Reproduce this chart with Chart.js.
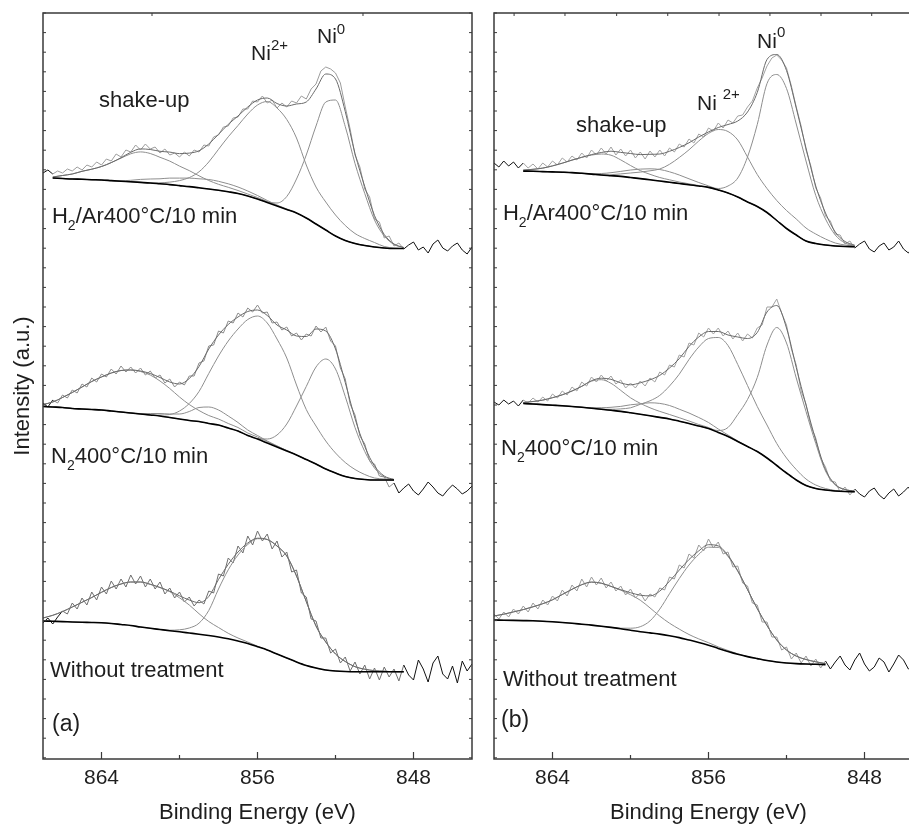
<!DOCTYPE html>
<html><head><meta charset="utf-8">
<script src="https://cdn.jsdelivr.net/npm/chart.js@4.4.1/dist/chart.umd.min.js"></script>
<style>
html,body{margin:0;padding:0;width:909px;height:826px;overflow:hidden;background:#fff;}
#ca{position:absolute;left:0;top:0;}
#cb{position:absolute;left:480px;top:0;}
</style></head><body>
<canvas id="ca" width="480" height="826"></canvas>
<canvas id="cb" width="451" height="826"></canvas>
<script>
// ---------- energy grids (eV) ----------
const energyFit = [867,866.5,866,865.5,865,864.5,864,863.5,863,862.5,862,861.5,861,860.5,860,859.5,859,858.5,858,857.5,857,856.5,856,855.5,855,854.5,854,853.5,853,852.5,852,851.5,851,850.5,850,849.5,849,848.5,848,847.5,847,846.5,846,845.5,845];
const energyRaw = [867,866.75,866.5,866.25,866,865.75,865.5,865.25,865,864.75,864.5,864.25,864,863.75,863.5,863.25,863,862.75,862.5,862.25,862,861.75,861.5,861.25,861,860.75,860.5,860.25,860,859.75,859.5,859.25,859,858.75,858.5,858.25,858,857.75,857.5,857.25,857,856.75,856.5,856.25,856,855.75,855.5,855.25,855,854.75,854.5,854.25,854,853.75,853.5,853.25,853,852.75,852.5,852.25,852,851.75,851.5,851.25,851,850.75,850.5,850.25,850,849.75,849.5,849.25,849,848.75,848.5,848.25,848,847.75,847.5,847.25,847,846.75,846.5,846.25,846,845.75,845.5,845.25,845];

const xTickValues = [848,852,856,860,864];
const xLabelValues = [848,856,864];

// ---------- panel (a), H2/Ar ----------
const bgA_H2 = [null,581,580.5,580,579.7,579.3,579,578.4,577.8,577.2,576.6,576,575.2,574.4,573.4,572.4,571.2,570,568.7,567.2,565.5,563,560,556.5,553,549.5,546,541,535,529,523,518.5,515.5,513.5,512,511,510.5,510.5,null,null,null,null,null,null,null];
const shakeA_H2 = [0,1,3,5,8,10.5,13.5,18,23,28,30.5,29.5,26.5,23.5,19.5,16,12,8.5,6,4.5,3,2,1.5,1,0.5];
const satA_H2 = [0,0,0,0,0,0,0,0,0.5,1.5,3,4,5,6.5,7.5,8.5,9,9.5,9,8,6.5,5,3.5,2,1,0.5];
const ni2A_H2 = [0,0,0,0,0,0,0,0,0,0,0,0,1,2.5,5,9,16,27,41,55,68,82,94,101,98,90,75,53,37,28,21,15,10,7,4.5,1.5,0.5];
const ni0A_H2 = [0,0,0,0,0,0,0,0,0,0,0,0,0,0,0,0,0,0,0,0,0,0,0,0.5,3,13,34,63,98,128,136,114,80,52,27,12,4,1];
const rawA_H2 = [586,589,585,588,586,590,588,592,589,594,592,597,594,
600,598,605,602,609,607,614,609,615,610,612,606,610,604,606,602,
607,603,609,607,614,613,622,624,632,633,641,642,650,650,658,657,
663,656,659,651,656,652,658,656,663,660,670,675,688,692,690,686,
676,652,630,604,592,570,562,540,537,521,523,513,516,510,514,517,
509,512,506,515,519,511,508,513,516,509,505,512];

// ---------- panel (a), N2 ----------
const bgA_N2 = [352.5,352,351.5,350.5,350,349.5,349,348,347,346,345,344,343,341.5,340,338.5,337.5,335.5,334,331,328,323.5,320,316,312,308,304,299.5,295,290,286,282.5,280.5,279.5,279,279,279,null,null,null,null,null,null,null,null];
const shakeA_N2 = [2,5,10,16,22,28,33,38,41.5,43,42.5,40,35,29,22,16,11,8,6,4.5,3.5,2.5,2,1.5,1,0.5];
const satA_N2 = [0,0,0,0,0,0,0,0,0,0,0.5,1.5,2.5,3.5,5,9,14,16.5,15,12,8.5,5.5,3.5,2,1,0.5];
const ni2A_N2 = [0,0,0,0,0,0,0,0,0,0,0,0,1,3,8,17,30,50,69,87,102,116,123,120,108,93,70,50,38,28,20,14,9,5,2,1];
const ni0A_N2 = [0,0,0,0,0,0,0,0,0,0,0,0,0,0,0,0,0,0,0,0,0,0,0.5,4,12,27,49,73,97,110,104,80,51,28,12,3,0.5];
const rawA_N2 = [356,352,359,356,364,361,369,366,375,372,381,377,385,
382,390,385,393,387,392,386,391,384,388,381,384,376,380,372,377,
374,383,383,396,398,413,414,428,426,438,436,446,442,451,447,454,
446,447,436,437,429,432,423,426,419,425,423,433,427,432,418,413,
391,380,355,344,323,315,298,295,283,282,272,276,266,271,275,268,
264,270,277,272,266,263,269,274,270,265,268,273];

// ---------- panel (a), without treatment ----------
const bgA_WT = [138,137.7,137.4,137,136.7,136.5,136.2,135.5,134.5,133.5,132,130.7,129.5,128.3,127.2,126,124.8,123.5,122,120.2,118,115.5,112.3,109,105,101,97,93.5,91,89,88,87.5,87.3,87.3,87.3,87.3,87.3,87.3,null,null,null,null,null,null,null];
const shakeA_WT = [3,6,10,15,20,25,30.5,36,40.5,43.5,45,44,42,39,34,28,20.5,14,9.5,5.5,3,1.5,0.5];
const ni2A_WT = [0,0,0,0,0,0,0,0,0,0,0,0,0,0.5,2,5,11,25,48,69,86,99,108,110.5,108,102,86,64,42,28,17,10,5,2.5,1,0.5];
const rawA_WT = [136,141,135,142,148,145,156,150,161,154,167,159,172,
165,178,170,180,172,184,175,183,172,180,170,177,165,171,161,167,
157,162,153,159,155,168,166,185,183,201,196,213,206,223,214,228,
218,225,210,218,202,207,187,189,166,162,140,138,121,121,106,110,
96,102,88,97,85,94,80,91,79,92,82,90,78,94,84,79,
99,90,77,96,103,85,80,93,76,98,88,95];

// ---------- panel (b), H2/Ar ----------
const bgB_H2 = [null,null,null,587.9,587.7,587.4,587.1,586.8,586.4,585.7,584.9,584,583.3,582.6,581.5,580.4,579.2,578,576.7,575.5,574.2,573,571.6,569,566,562,557,552.5,546.5,538.5,530.5,524,518,515.5,514,513,512.5,512.3,null,null,null,null,null,null,null];
const shakeB_H2 = [0,0,0,1,2,3.5,6,9,12.5,16,19,21,20.5,16.5,12,8,5.5,3.5,2.5,1.5,1,0.5];
const satB_H2 = [0,0,0,0,0,0,0,0,0,0,0.5,1.5,3,5,7.5,9.5,11,11.5,10.5,8.5,6,3.5,1.5,0.5];
const ni2B_H2 = [0,0,0,0,0,0,0,0,0,0,0,0,1,2.5,4.5,6.5,9,12,18,26,35,45,54,60.5,61.5,57,45,32,24,20,18,16,13,9.5,6,3,1.5,0.5];
const ni0B_H2 = [0,0,0,0,0,0,0,0,0,0,0,0,0,0,0,0,0,0,0,0,0,0,0,1.5,7,19,45,82,129,146,140,111,80,48,26,11,3.5,1];
const rawB_H2 = [596,592,598,593,597,591,596,591,595,590,596,592,598,
594,601,597,603,599,606,601,609,604,611,605,612,604,610,603,609,
601,607,600,608,602,609,603,611,607,615,612,620,616,625,622,631,
628,636,631,639,636,643,644,652,658,671,681,693,701,704,699,691,
673,652,633,609,593,571,561,543,538,525,524,515,518,511,515,518,
510,507,513,516,509,512,518,510,506,513,516,511];

// ---------- panel (b), N2 ----------
const bgB_N2 = [null,null,null,355.5,355,354.4,353.8,353.2,352.5,351.7,350.8,349.8,348.7,347.6,346.2,344.7,343.2,341.6,340,337.8,335.5,333,330.5,326.5,322.5,317.5,312.5,307.5,301,293.5,286,279,273.5,270.5,269,268,267.5,267.3,null,null,null,null,null,null,null];
const shakeB_N2 = [0,0,0,1,2.5,4.5,7.5,11,15.5,21,27,29.5,27,21,15,11,8,6,4.5,3.5,2.5,1.5,1,0.5];
const satB_N2 = [0,0,0,0,0,0,0,0,0,0,0.5,1.5,3,5,8,10.5,13,14,13.5,12,10.5,8.5,6,3.5,1.5,0.5];
const ni2B_N2 = [0,0,0,0,0,0,0,0,0,0,0,0,1,2.5,5,10,15,22,33,47,64,79,90,95,91,77,61,45,33,22,15,10.5,6.5,3.5,1.5,0.5];
const ni0B_N2 = [0,0,0,0,0,0,0,0,0,0,0,0,0,0,0,0,0,0,0,0,0,0,0,2,9,27,47,74,113,138,130,102,74,45,19,6,2,0.5];
const rawB_N2 = [357,354,359,355,358,353,359,356,361,357,362,358,365,
361,368,364,372,368,377,373,382,377,384,378,383,375,379,371,376,
371,378,373,381,377,387,384,394,392,404,402,416,414,426,422,431,
425,431,423,428,420,426,418,425,421,431,434,452,452,460,446,434,
410,394,368,355,333,321,301,292,278,277,267,272,264,270,265,262,
268,271,264,260,266,270,263,267,272,264,261,267];

// ---------- panel (b), without treatment ----------
const bgB_WT = [139,138.8,138.6,138.4,138.2,137.8,137.2,136.5,135.7,134.8,133.9,132.8,131.6,130.3,128.8,127.3,126.1,124.9,123.3,121.4,119,116.6,113.8,110.6,107.5,104.7,102.4,100.4,98.5,97,96,95.4,95,94.7,94.4,null,null,null,null,null,null,null,null,null,null];
const shakeB_WT = [4,6,8.5,11,14,17.5,22,28,34,39.5,43,43,41,38.5,35.5,31.5,25,18,12.5,8.5,5.5,3.5,2.5,1.5,1,0.5];
const ni2B_WT = [0,0,0,0,0,0,0,0,0,0,0,0,0,0.5,2,5,12,25,42,59,75,88,98,101,95,83,67,50,35,22,13,7.5,4.5,2.5,1];
const rawB_WT = [145,140,147,142,150,145,153,147,156,150,159,154,163,
158,169,163,174,168,180,172,182,174,181,171,177,168,173,164,170,
161,166,158,165,162,171,169,182,180,194,191,205,201,214,208,220,
211,217,205,207,192,193,176,173,156,154,137,137,122,122,109,112,
100,106,96,103,93,100,91,98,90,97,103,94,89,99,106,95,
88,92,101,97,87,95,104,99,90,93,101,96];

// ---------- drawing ----------
const FONT = "'Liberation Sans', Arial, Helvetica, sans-serif";
Chart.defaults.font.family = FONT;
const TXT = '#1e1e1e';

function spectrum(bg, comps, raw, fitLo, fitHi, rawGray) {
  const sets = [];
  const bgPts = [], envPts = [];
  const compPts = comps.map(() => []);
  energyFit.forEach((e, k) => {
    if (bg[k] == null) return;
    bgPts.push({x: e, y: bg[k]});
    let sum = 0;
    comps.forEach((c, j) => { const v = c[k] || 0; sum += v; compPts[j].push({x: e, y: bg[k] + v}); });
    envPts.push({x: e, y: bg[k] + sum});
  });
  const smooth = {pointRadius: 0, cubicInterpolationMode: 'monotone', fill: false};
  sets.push(Object.assign({data: bgPts, borderColor: '#000', borderWidth: 1.6, order: 1}, smooth));
  sets.push(Object.assign({data: envPts, borderColor: '#6a6a6a', borderWidth: 1, order: 2}, smooth));
  compPts.forEach(p => sets.push(Object.assign({data: p, borderColor: '#8e8e8e', borderWidth: 1, order: 3}, smooth)));
  const inFit = v => v >= fitLo - 1e-6 && v <= fitHi + 1e-6;
  sets.push({
    data: energyRaw.map((e, k) => ({x: e, y: raw[k]})),
    borderColor: rawGray, borderWidth: 1, pointRadius: 0, tension: 0, fill: false, order: 4,
    segment: {borderColor: c => (inFit(c.p0.parsed.x) && inFit(c.p1.parsed.x)) ? rawGray : '#111'}
  });
  return sets;
}

const framePlugin = {
  id: 'frame',
  afterDraw(chart, args, opts) {
    const {ctx, chartArea: a, scales: {x, y}} = chart;
    ctx.save();
    ctx.strokeStyle = '#3a3a3a';
    ctx.lineWidth = 1.5;
    ctx.strokeRect(a.left, a.top, a.right - a.left, a.bottom - a.top);
    ctx.lineWidth = 1.2;
    const seg = (x1, y1, x2, y2) => { ctx.beginPath(); ctx.moveTo(x1, y1); ctx.lineTo(x2, y2); ctx.stroke(); };
    xTickValues.forEach(v => {
      const px = x.getPixelForValue(v);
      const len = xLabelValues.includes(v) ? 7 : 4;
      seg(px, a.bottom, px, a.bottom - len);
    });
    ctx.lineWidth = 1;
    for (let v = y.max; v >= y.min; v -= 19.6) {
      const py = y.getPixelForValue(v);
      seg(a.left, py, a.left + 3, py);
      if (opts.rightTicks) seg(a.right, py, a.right - 3, py);
    }
    (opts.topTicks || []).forEach(v => {
      const px = x.getPixelForValue(v);
      seg(px, a.top, px, a.top + 3);
    });
    ctx.restore();
  }
};

const textPlugin = {
  id: 'panelText',
  afterDraw(chart, args, opts) {
    const {ctx, scales: {x, y}} = chart;
    ctx.save();
    ctx.fillStyle = TXT;
    ctx.textAlign = 'left';
    ctx.textBaseline = 'alphabetic';
    (opts.items || []).forEach(it => {
      let px = x.getPixelForValue(it.e);
      const py = y.getPixelForValue(it.i);
      it.parts.forEach(([t, size, dy]) => {
        ctx.font = size + 'px ' + FONT;
        ctx.fillText(t, px, py + dy);
        px += ctx.measureText(t).width;
      });
    });
    ctx.restore();
  }
};

function xScale() {
  return {
    type: 'linear', min: 845, max: 867, reverse: true,
    afterBuildTicks: s => { s.ticks = xTickValues.map(v => ({value: v})); },
    afterFit: s => { s.height = 67; },
    grid: {display: false, drawTicks: false},
    border: {display: false},
    ticks: {autoSkip: false, maxRotation: 0, minRotation: 0, padding: 7, color: TXT, font: {size: 21},
      callback: v => xLabelValues.includes(v) ? String(v) : ''},
    title: {display: true, text: 'Binding Energy (eV)', color: TXT, font: {size: 22}, padding: {top: 0, bottom: 0}}
  };
}
function yScale(showTitle, width) {
  return {
    type: 'linear', min: 0, max: 746,
    afterFit: s => { s.width = width; },
    grid: {display: false, drawTicks: false},
    border: {display: false},
    ticks: {display: false},
    title: {display: showTitle, text: 'Intensity (a.u.)', color: TXT, font: {size: 22}, padding: {top: 10, bottom: 0}}
  };
}

const labelsA = [
  {e: 864.13, i: 652, parts: [['shake-up', 22, 0]]},
  {e: 856.33, i: 699, parts: [['Ni', 21, 0], ['2+', 15, -10]]},
  {e: 852.95, i: 716, parts: [['Ni', 21, 0], ['0', 15, -9]]},
  {e: 866.54, i: 536, parts: [['H', 22, 0], ['2', 14, 7], ['/Ar400°C/10 min', 22, 0]]},
  {e: 866.59, i: 296, parts: [['N', 22, 0], ['2', 14, 7], ['400°C/10 min', 22, 0]]},
  {e: 866.64, i: 82, parts: [['Without treatment', 22, 0]]},
  {e: 866.54, i: 28, parts: [['(a)', 23, 0]]}
];
const labelsB = [
  {e: 862.79, i: 627, parts: [['shake-up', 22, 0]]},
  {e: 856.59, i: 649, parts: [['Ni ', 21, 0], ['2+', 15, -11]]},
  {e: 853.51, i: 711, parts: [['Ni', 21, 0], ['0', 15, -11]]},
  {e: 866.54, i: 539, parts: [['H', 22, 0], ['2', 14, 7], ['/Ar400°C/10 min', 22, 0]]},
  {e: 866.64, i: 304, parts: [['N', 22, 0], ['2', 14, 7], ['400°C/10 min', 22, 0]]},
  {e: 866.54, i: 73, parts: [['Without treatment', 22, 0]]},
  {e: 866.64, i: 32, parts: [['(b)', 23, 0]]}
];

const datasetsA = [].concat(
  spectrum(bgA_H2, [shakeA_H2, satA_H2, ni2A_H2, ni0A_H2], rawA_H2, 848.5, 866.5, '#9c9c9c'),
  spectrum(bgA_N2, [shakeA_N2, satA_N2, ni2A_N2, ni0A_N2], rawA_N2, 848.9, 866.6, '#8c8c8c'),
  spectrum(bgA_WT, [shakeA_WT, ni2A_WT], rawA_WT, 848.5, 866.1, '#6e6e6e')
);
const datasetsB = [].concat(
  spectrum(bgB_H2, [shakeB_H2, satB_H2, ni2B_H2, ni0B_H2], rawB_H2, 848.5, 865.6, '#a2a2a2'),
  spectrum(bgB_N2, [shakeB_N2, satB_N2, ni2B_N2, ni0B_N2], rawB_N2, 848.5, 865.6, '#a2a2a2'),
  spectrum(bgB_WT, [shakeB_WT, ni2B_WT], rawB_WT, 849.9, 867, '#9a9a9a')
);

function makeChart(id, datasets, padRight, yWidth, showTitle, frameOpts, labels) {
  return new Chart(document.getElementById(id), {
    type: 'line',
    data: {datasets},
    options: {
      responsive: false, animation: false, events: [],
      layout: {padding: {top: 13, right: padRight, left: 0, bottom: 0}},
      plugins: {legend: {display: false}, tooltip: {enabled: false}, frame: frameOpts, panelText: {items: labels}},
      scales: {x: xScale(), y: yScale(showTitle, yWidth)}
    },
    plugins: [framePlugin, textPlugin]
  });
}

makeChart('ca', datasetsA, 8, 43, true, {rightTicks: true, topTicks: [861.41, 850.59]}, labelsA);
makeChart('cb', datasetsB, 8, 14, false, {rightTicks: false, topTicks: [865.97, 863.36, 860.71, 858.09, 855.46, 852.85, 850.23, 847.63]}, labelsB);
</script>
</body></html>
